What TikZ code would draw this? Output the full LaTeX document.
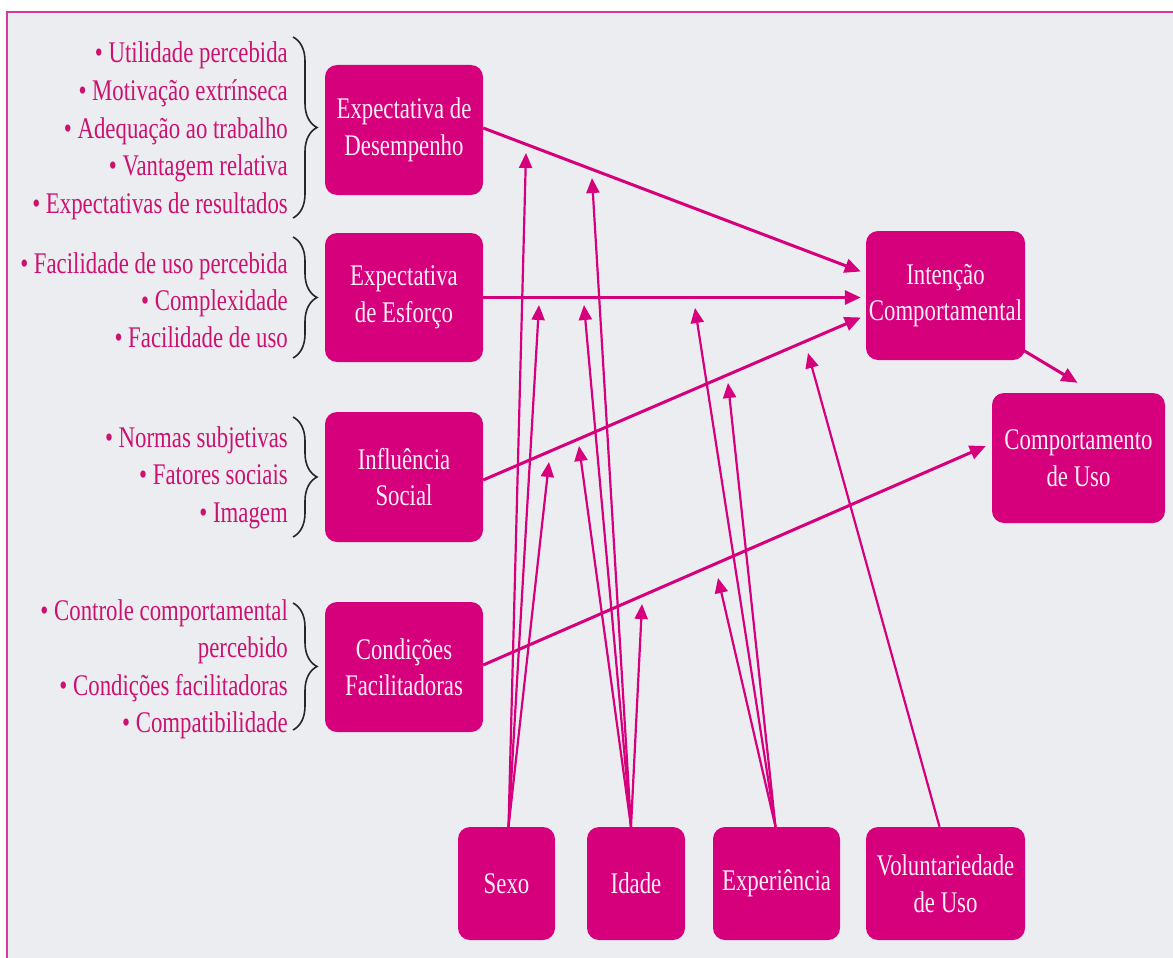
\documentclass[tikz,border=0pt]{standalone}
\usepackage{fontspec}
\setmainfont{Liberation Serif}[FakeStretch=0.76]
\usetikzlibrary{arrows.meta,decorations.pathreplacing,calc}
\definecolor{mag}{RGB}{214,0,124}
\definecolor{listc}{RGB}{204,18,112}
\definecolor{bgc}{RGB}{236,237,241}
\definecolor{framec}{RGB}{208,60,156}
\definecolor{boxtxt}{RGB}{255,238,247}
\begin{document}
\begin{tikzpicture}[x=1pt,y=-1pt,
  box/.style={draw=none, fill=mag, rounded corners=12pt, text=boxtxt,
    font=\fontsize{30}{36.5}\selectfont, align=center, inner sep=0pt},
  lst/.style={text=listc, font=\fontsize{30}{37.5}\selectfont, anchor=base east, inner sep=0pt},
  mainarr/.style={draw=mag, line width=3pt, -{Triangle[length=16pt,width=14pt]}},
  modarr/.style={draw=mag, line width=2.2pt, -{Triangle[length=15pt,width=13pt]}},
  brc/.style={draw=black!85, line width=1.6pt, decorate, decoration={brace, amplitude=24pt}},
]
\useasboundingbox (0,0) rectangle (1173,958);
\clip (0,0) rectangle (1173,958);
\fill[white] (0,0) rectangle (1173,958);
\filldraw[fill=bgc, draw=framec, line width=2.5pt] (7,12) rectangle (1190,975);

% main boxes
\node[box, minimum width=158pt, minimum height=130pt] (ed) at (404,130) {Expectativa de\\Desempenho};
\node[box, minimum width=158pt, minimum height=129pt] (ee) at (404,297.5) {Expectativa\\de Esforço};
\node[box, minimum width=158pt, minimum height=130pt] (is) at (404,477) {Influência\\Social};
\node[box, minimum width=158pt, minimum height=130pt] (cf) at (404,667) {Condições\\Facilitadoras};
\node[box, minimum width=159pt, minimum height=129pt] (ic) at (945.5,295.5) {Intenção\\Comportamental};
\node[box, minimum width=173pt, minimum height=130pt] (cu) at (1078.5,458) {Comportamento\\de Uso};
\node[box, minimum width=97pt, minimum height=113pt] (sexo) at (506.5,883.5) {Sexo};
\node[box, minimum width=98pt, minimum height=113pt] (idade) at (636,883.5) {Idade};
\node[box, minimum width=127pt, minimum height=113pt] (exp) at (776.5,883.5) {Experiência};
\node[box, minimum width=159pt, minimum height=113pt] (vol) at (945.5,883.5) {Voluntariedade\\de Uso};

% lists
\foreach \t [count=\i] in {• Utilidade percebida, • Motivação extrínseca, • Adequação ao trabalho, • Vantagem relativa, • Expectativas de resultados}
  \node[lst] (la\i) at (288, 25.5+37.5*\i) {\t};
\foreach \t [count=\i] in {• Facilidade de uso percebida, • Complexidade, • Facilidade de uso}
  \node[lst] (lb\i) at (288, 236+37*\i) {\t};
\foreach \t [count=\i] in {• Normas subjetivas, • Fatores sociais, • Imagem}
  \node[lst] (lc\i) at (288, 409.5+37.5*\i) {\t};
\foreach \t [count=\i] in {• Controle comportamental, percebido, • Condições facilitadoras, • Compatibilidade}
  \node[lst] (ld\i) at (288, 582.5+37.5*\i) {\t};

% braces
\draw[brc] (293,37) -- (293,218);
\draw[brc] (293,237) -- (293,358);
\draw[brc] (293,417) -- (293,537);
\draw[brc] (293,603) -- (293,730);

% tip coordinates for moderators
\coordinate (s1) at (526,153);
\coordinate (s2) at (539,305);
\coordinate (s3) at (549,462);
\coordinate (a1) at (592,178);
\coordinate (a2) at (584,305);
\coordinate (a3) at (579,446);
\coordinate (a4) at (642,604);
\coordinate (x1) at (695,308);
\coordinate (x2) at (728,383);
\coordinate (x3) at (718,578);
\coordinate (v1) at (808,353);

% moderator arrows
\foreach \t in {s1,s2,s3} \draw[modarr] ($(sexo.north)+(2,0)$) -- (\t);
\foreach \t in {a1,a2,a3,a4} \draw[modarr] ($(idade.north)+(-5,0)$) -- (\t);
\foreach \t in {x1,x2,x3} \draw[modarr] ($(exp.north)+(-1,0)$) -- (\t);
\draw[modarr] ($(vol.north)+(-6,0)$) -- (v1);

% main arrows
\draw[mainarr] ($(ed.east)+(0,-2)$) -- ($(ic.west)+(-5,-24)$);
\draw[mainarr] (ee.east) -- ($(ee.east -| ic.west)+(-5,0)$);
\draw[mainarr] ($(is.east)+(0,3)$) -- ($(ic.west)+(-5,22)$);
\draw[mainarr] ($(cf.east)+(0,-2)$) -- ($(cu.west)+(-6,-12)$);
\draw[mainarr] ($(ic.south east)+(-2,-10)$) -- ($(cu.north)+(-1,-10)$);
\end{tikzpicture}
\end{document}
